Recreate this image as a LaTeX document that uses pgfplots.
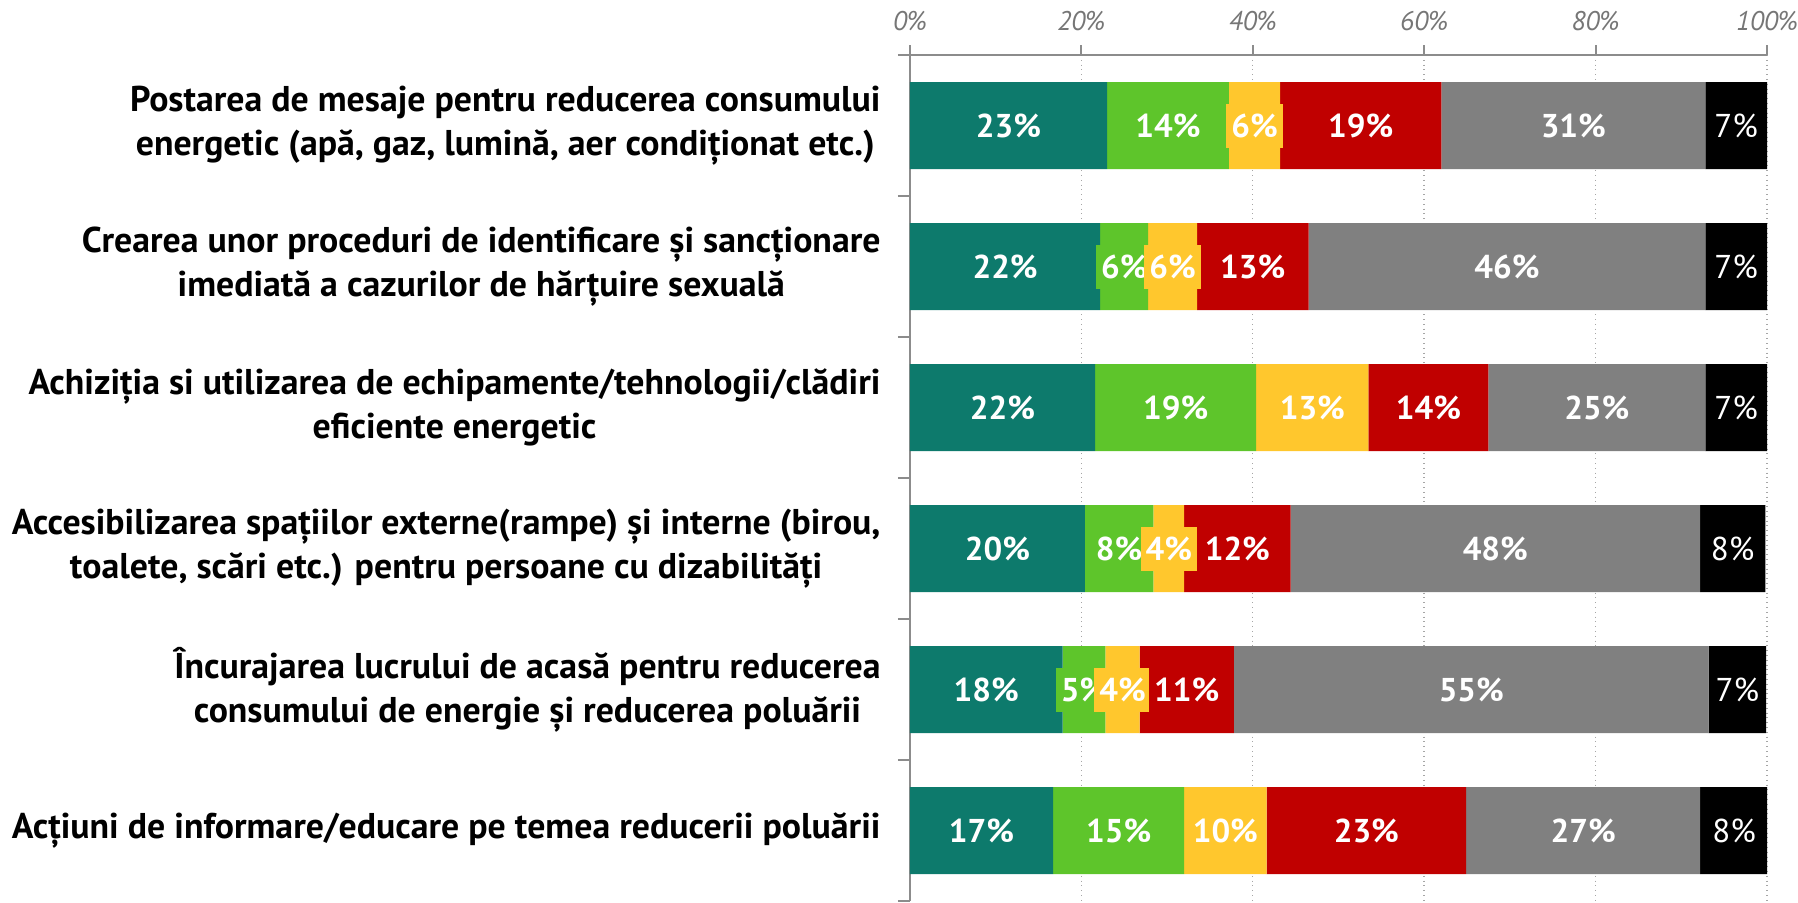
\documentclass[border=0pt]{standalone}
\usepackage{pgfplots}
\pgfplotsset{compat=1.18}
\usepackage{pgfplotstable}
\usepackage{fontspec}
\setmainfont{PT Sans}
\definecolor{cTeal}{HTML}{0D7A6C}
\definecolor{cGreen}{HTML}{5EC52B}
\definecolor{cYellow}{HTML}{FFC72D}
\definecolor{cRed}{HTML}{C00000}
\definecolor{cGray}{HTML}{808080}
\definecolor{cBlack}{HTML}{000000}
\definecolor{axisgray}{HTML}{8C8C8C}
\definecolor{gridgray}{HTML}{A6A6A6}
\definecolor{ticklab}{HTML}{767676}

\pgfplotstableread{
row a b c d e f
0 23.0 14.2 6.0 18.8 30.8 7.2
1 22.2 5.6 5.7 13.0 46.3 7.2
2 21.6 18.8 13.1 14.0 25.3 7.2
3 20.4 8.0 3.6 12.4 47.8 7.6
4 17.8 5.0 4.0 11.0 55.4 6.7
5 16.7 15.3 9.6 23.3 27.3 7.9
}\data

\pgfplotsset{
  common/.style={scale only axis, width=428.5pt, height=423pt,
    xmin=0, xmax=100, ymin=-0.5, ymax=5.5, y dir=reverse,
    at={(0.5pt,0)}, anchor=south west},
  lab/.style 2 args={draw=none, mark=none,
    nodes near coords={\pgfmathprintnumber[fixed,precision=0,assume math mode=true]{\pgfplotspointmeta}\%},
    point meta=explicit,
    every node near coord/.style={anchor=center, fill=#1, text=white,
      font=\fontsize{16.5}{18}\selectfont#2, inner xsep=2.5pt, inner ysep=5pt}},
}

\begin{document}
\begin{tikzpicture}
\useasboundingbox (-454.5pt,-0.5pt) rectangle (444.5pt,450.5pt);
\begin{axis}[common,
  xbar stacked, bar width=43.5pt,
  axis x line*=top, axis y line*=left,
  axis line style={axisgray, line width=1pt},
  xtick={0,20,...,100},
  xticklabel={\pgfmathprintnumber[assume math mode=true]{\tick}\%},
  /pgf/number format/assume math mode=true,
  xticklabel style={font=\fontsize{13.5}{16}\selectfont\itshape, text=ticklab, yshift=3.5pt},
  xmajorgrids, grid style={gridgray, dotted, line width=0.7pt},
  tick align=outside, major tick length=5pt, minor tick length=6pt,
  tick style={axisgray, line width=1pt},
  ytick={0,...,5},
  minor ytick={-0.5,0.5,...,5.5},
  major y tick style={draw=none},
  yticklabel style={align=center, font=\fontsize{17.9}{21.8}\selectfont\bfseries, text=black, xshift=-6.2pt},
  yticklabels={
    {Postarea de mesaje pentru reducerea consumului\\energetic (apă, gaz, lumină, aer condiționat etc.)},
    {Crearea unor proceduri de identificare și sancționare\\imediată a cazurilor de hărțuire sexuală},
    {Achiziția si utilizarea de echipamente/tehnologii/clădiri\\eficiente energetic},
    {Accesibilizarea spațiilor externe(rampe) și interne (birou,\\toalete, scări etc.) pentru persoane cu dizabilități},
    {Încurajarea lucrului de acasă pentru reducerea\\consumului de energie și reducerea poluării},
    {Acțiuni de informare/educare pe temea reducerii poluării}},
]
\addplot[fill=cTeal, draw=none] table[x=a, y=row] {\data};
\addplot[fill=cGreen, draw=none] table[x=b, y=row] {\data};
\addplot[fill=cYellow, draw=none] table[x=c, y=row] {\data};
\addplot[fill=cRed, draw=none] table[x=d, y=row] {\data};
\addplot[fill=cGray, draw=none] table[x=e, y=row] {\data};
\addplot[fill=cBlack, draw=none] table[x=f, y=row] {\data};
\end{axis}
\begin{axis}[common, hide axis, clip=false]
\addplot[lab={cTeal}{\bfseries}] table[x expr=\thisrow{a}/2, y=row, meta=a] {\data};
\addplot[lab={cGreen}{\bfseries}] table[x expr=\thisrow{a}+\thisrow{b}/2, y=row, meta=b] {\data};
\addplot[lab={cYellow}{\bfseries}] table[x expr=\thisrow{a}+\thisrow{b}+\thisrow{c}/2, y=row, meta=c] {\data};
\addplot[lab={cRed}{\bfseries}] table[x expr=\thisrow{a}+\thisrow{b}+\thisrow{c}+\thisrow{d}/2, y=row, meta=d] {\data};
\addplot[lab={cGray}{\bfseries}] table[x expr=\thisrow{a}+\thisrow{b}+\thisrow{c}+\thisrow{d}+\thisrow{e}/2, y=row, meta=e] {\data};
\addplot[lab={cBlack}{}] table[x expr=\thisrow{a}+\thisrow{b}+\thisrow{c}+\thisrow{d}+\thisrow{e}+\thisrow{f}/2, y=row, meta=f] {\data};
\end{axis}
\end{tikzpicture}
\end{document}
